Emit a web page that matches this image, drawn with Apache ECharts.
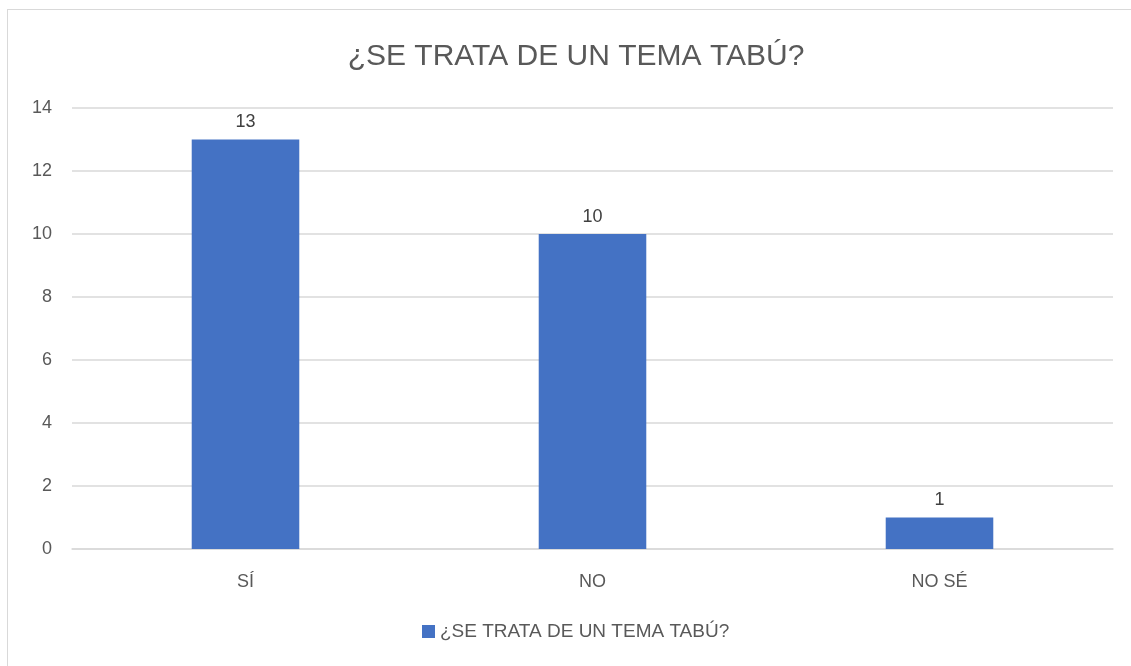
<!DOCTYPE html>
<html>
<head>
<meta charset="utf-8">
<script src="https://cdn.jsdelivr.net/npm/echarts@6/dist/echarts.min.js"></script>
<style>
	html, body { margin: 0; padding: 0; background: #fff; }
	#frame { position: absolute; left: 7px; top: 9px; width: 1140px; height: 670px; border: 1px solid #d9d9d9; box-sizing: border-box; }
	#chart { position: absolute; left: 0; top: 0; width: 1131px; height: 666px; }
</style>
</head>
<body>
<div id="frame"></div>
<div id="chart"></div>
<script>
	// datos
	const titulo = '¿SE TRATA DE UN TEMA TABÚ?'
	const categorias = ['SÍ', 'NO', 'NO SÉ']
	const valores = [13, 10, 1]

	const fuente = 'Liberation Sans'
	let mychart = echarts.init(document.getElementById('chart'))
	let option = {
		title: {
			text: titulo,
			left: 571,
			top: 37,
			textAlign: 'center',
			textStyle: { color: '#595959', fontSize: 30, fontWeight: 'normal', fontFamily: fuente }
		},
		legend: {
			data: [titulo],
			bottom: 20,
			left: 417,
			itemWidth: 13,
			itemHeight: 13,
			icon: 'rect',
			itemGap: 6,
			textStyle: { color: '#595959', fontSize: 19, fontFamily: fuente }
		},
		grid: { left: 72, right: 18, top: 108, bottom: 117 },
		xAxis: {
			type: 'category',
			data: categorias,
			axisLine: { show: true, lineStyle: { color: '#d9d9d9', width: 1.5 } },
			axisTick: { show: false },
			axisLabel: { color: '#595959', fontSize: 18, fontFamily: fuente, margin: 24 }
		},
		yAxis: {
			type: 'value',
			min: 0,
			max: 14,
			interval: 2,
			axisLine: { show: false },
			axisTick: { show: false },
			splitLine: { lineStyle: { color: '#d9d9d9', width: 1.5 } },
			axisLabel: { color: '#595959', fontSize: 18, fontFamily: fuente, margin: 20 }
		},
		series: [{
			name: titulo,
			type: 'bar',
			data: valores,
			barWidth: '31%',
			itemStyle: { color: '#4472c4' },
			label: { show: true, position: 'top', distance: 8, color: '#404040', fontSize: 18, fontFamily: fuente }
		}]
	}
	mychart.setOption(option)
</script>
</body>
</html>
